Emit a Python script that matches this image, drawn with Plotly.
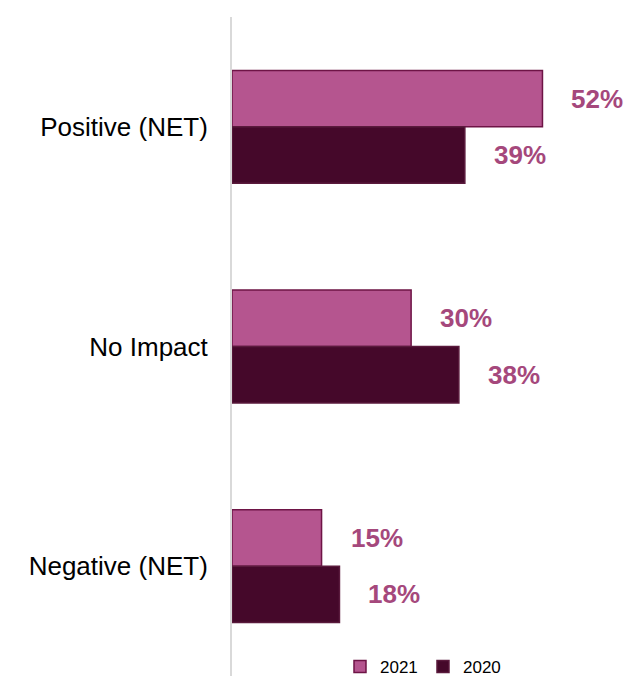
import plotly.graph_objects as go

categories = ["Positive (NET)", "No Impact", "Negative (NET)"]
series_names = ["2021", "2020"]
values_2021 = [52, 30, 15]
values_2020 = [39, 38, 18]

fill_colors = ["#B5558F", "#45082A"]
line_colors = ["#6E1446", "#5A1A3C"]
label_color = "#A5487C"
FONT = "Liberation Sans, Arial, sans-serif"

bargap = 0.486
fig = go.Figure()
for name, vals, fc, lc in zip(series_names, [values_2021, values_2020], fill_colors, line_colors):
    fig.add_trace(go.Bar(
        y=categories, x=vals, name=name, orientation="h",
        marker=dict(color=fc, line=dict(color=lc, width=1.5)),
        hoverinfo="skip",
    ))

bw = (1 - bargap) / 2
annotations = []
for i, vals in enumerate([values_2021, values_2020]):
    offset = -bw / 2 if i == 0 else bw / 2
    for j, v in enumerate(vals):
        annotations.append(dict(
            x=v, y=j + offset, xref="x", yref="y",
            text=f"<b>{v}%</b>", showarrow=False,
            xanchor="left", yanchor="middle", xshift=27,
            font=dict(family=FONT, size=26, color=label_color),
        ))

fig.update_layout(
    width=630, height=673,
    margin=dict(l=224, r=0, t=9, b=5, autoexpand=False),
    paper_bgcolor="white", plot_bgcolor="white",
    barmode="group", bargap=bargap, bargroupgap=0,
    font=dict(family=FONT, size=26, color="black"),
    annotations=annotations,
    showlegend=True,
    legend=dict(
        orientation="h", x=0.266, xanchor="left", y=0.0137, yanchor="middle",
        font=dict(family=FONT, size=17, color="black"),
        bgcolor="rgba(0,0,0,0)", traceorder="normal",
        itemwidth=30, entrywidth=38,
    ),
    xaxis=dict(range=[0, 68], visible=False, showgrid=False, zeroline=False, fixedrange=True),
    yaxis=dict(
        type="category", categoryorder="array", categoryarray=categories,
        autorange="reversed", showgrid=False, zeroline=False,
        showline=True, linecolor="#D9D9D9", linewidth=2,
        ticks="", ticklabelstandoff=17,
        tickfont=dict(family=FONT, size=26, color="black"),
    ),
)

fig.write_html("out.html")
